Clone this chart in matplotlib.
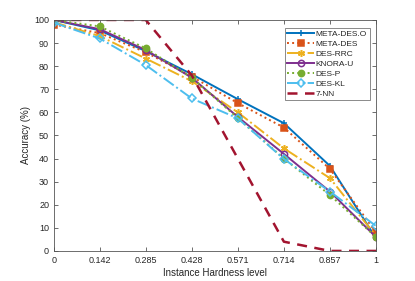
import numpy as np
import matplotlib
matplotlib.use('Agg')
import matplotlib.pyplot as plt

# --- data ---
levels = [0, 0.142, 0.285, 0.428, 0.571, 0.714, 0.857, 1]
level_labels = ['0', '0.142', '0.285', '0.428', '0.571', '0.714', '0.857', '1']

meta_des_o = [100, 95.5, 86.5, 76.5, 65.7, 55.3, 36.8, 5.5]
meta_des = [98, 94.3, 86, 75.5, 64, 53.4, 35.5, 8]
des_rrc = [99, 93, 83.3, 73.5, 60, 44.4, 31.5, 6.5]
knora_u = [100, 96, 87, 75, 58, 42, 25.7, 6]
des_p = [100, 97.2, 87.7, 75, 57.5, 40, 24.2, 6]
des_kl = [98.8, 92, 80.5, 66, 57.4, 39.8, 25.7, 10.8]
knn7 = [100, 100, 100, 76, 40, 4, 0, 0]

series = [
    ('META-DES.O', meta_des_o, '#0072BD', '-', '+', 'none', 5),
    ('META-DES', meta_des, '#D95319', ':', 's', '#D95319', 4.2),
    ('DES-RRC', des_rrc, '#EDB120', '-.', (6, 2, 0), 'none', 5),
    ('KNORA-U', knora_u, '#7E2F8E', '-', 'o', 'none', 4.5),
    ('DES-P', des_p, '#77AC30', ':', 'o', '#77AC30', 4.5),
    ('DES-KL', des_kl, '#4DBEEE', '-.', 'D', 'none', 4.2),
]

plt.rcParams['font.family'] = ['Liberation Sans', 'DejaVu Sans']
fig = plt.figure(figsize=(4.15, 2.81), dpi=100)
ax = fig.add_axes([0.130, 0.107, 0.776, 0.822])

for name, vals, col, ls, mk, fc, ms in series:
    ax.plot(levels, vals, color=col, linestyle=ls, linewidth=1.4,
            marker=mk, markersize=ms, markerfacecolor=fc,
            markeredgecolor=col, markeredgewidth=1.1, label=name)

ax.plot(levels, knn7, color='#A2142F', linestyle=(0, (4, 3)), linewidth=1.8,
        label='7-NN')

ax.set_xlim(0, 1)
ax.set_ylim(0, 100)
ax.set_xticks(levels)
ax.set_xticklabels(level_labels)
ax.set_yticks(np.arange(0, 101, 10))

gray = '#262626'
for sp in ax.spines.values():
    sp.set_color('#555555')
    sp.set_linewidth(0.6)
ax.tick_params(direction='in', length=3, width=0.6, colors='#555555',
               labelcolor=gray, labelsize=6.5, top=True, right=True)

ax.set_xlabel('Instance Hardness level', fontsize=7, color=gray, labelpad=2)
ax.set_ylabel('Accuracy (%)', fontsize=7, color=gray, labelpad=2)

leg = ax.legend(loc='upper right', bbox_to_anchor=(0.98, 0.965), fontsize=6,
                frameon=True, fancybox=False, edgecolor='#555555',
                handlelength=3.2, handletextpad=0.2, labelspacing=0.25,
                borderpad=0.3, borderaxespad=0)
leg.get_frame().set_linewidth(0.6)
for t in leg.get_texts():
    t.set_color(gray)

fig.savefig('out.png', dpi=100)
